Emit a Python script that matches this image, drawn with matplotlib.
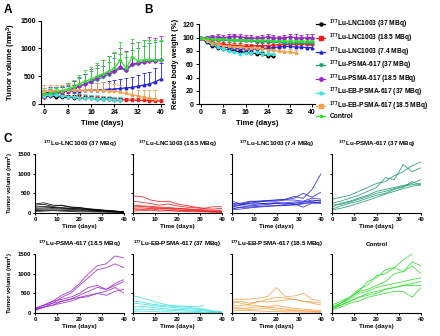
import numpy as np
import matplotlib.pyplot as plt
from matplotlib.lines import Line2D

plt.rcParams['font.family'] = ['Liberation Sans', 'DejaVu Sans']
plt.rcParams['font.weight'] = 'bold'
plt.rcParams['axes.titleweight'] = 'bold'
plt.rcParams['axes.labelweight'] = 'bold'
plt.rcParams['mathtext.fontset'] = 'custom'
plt.rcParams['mathtext.rm'] = 'Liberation Sans:bold'
plt.rcParams['mathtext.bf'] = 'Liberation Sans:bold'
plt.rcParams['mathtext.it'] = 'Liberation Sans:bold'
plt.rcParams['mathtext.default'] = 'bf'
plt.rcParams['axes.linewidth'] = 0.8

# group names
labels = ["$^{177}$Lu-LNC1003 (37 MBq)", "$^{177}$Lu-LNC1003 (18.5 MBq)",
          "$^{177}$Lu-LNC1003 (7.4 MBq)", "$^{177}$Lu-PSMA-617 (37 MBq)",
          "$^{177}$Lu-PSMA-617 (18.5 MBq)", "$^{177}$Lu-EB-PSMA-617 (37 MBq)",
          "$^{177}$Lu-EB-PSMA-617 (18.5 MBq)", "Control"]
colors = ['#000000', '#ee1c1c', '#2424d8', '#1f9a72', '#9b27c9', '#3fe3e3', '#f2a24c', '#2ee02e']
markers = ['o', 's', '^', 'v', 'D', 'h', 's', '*']

days = np.arange(0, 41, 2)

# A: tumor volume, mean and SD (mm3)
vol_lnc37 = [130, 140, 135, 125, 120, 115, 110, 105, 100, 95, 90, 85, 80, 75]
vol_lnc37_sd = [60, 65, 60, 55, 50, 50, 45, 45, 40, 40, 35, 35, 30, 30]
vol_lnc18 = [160, 170, 155, 145, 135, 125, 120, 110, 105, 100, 95, 90, 85, 80, 75, 70, 65, 65, 60, 60, 55]
vol_lnc18_sd = [90, 90, 80, 75, 70, 65, 60, 55, 50, 50, 45, 45, 40, 40, 40, 35, 35, 35, 30, 30, 30]
vol_lnc7 = [200, 210, 215, 220, 230, 235, 240, 245, 250, 255, 260, 265, 270, 280, 290, 300, 320, 340, 360, 400, 450]
vol_lnc7_sd = [80, 90, 90, 95, 100, 100, 105, 110, 120, 130, 140, 150, 160, 170, 180, 190, 200, 210, 220, 250, 280]
vol_psma37 = [170, 185, 200, 220, 250, 280, 320, 360, 400, 440, 480, 530, 580, 640, 600, 700, 720, 750, 770, 780, 800]
vol_psma37_sd = [80, 90, 100, 110, 120, 140, 160, 180, 190, 200, 210, 230, 240, 260, 250, 270, 290, 300, 320, 330, 340]
vol_psma18 = [130, 160, 190, 210, 240, 280, 320, 360, 420, 470, 520, 560, 600, 660, 620, 720, 740, 760, 780, 770, 790]
vol_psma18_sd = [50, 60, 70, 90, 110, 130, 150, 180, 210, 240, 270, 300, 320, 350, 340, 370, 380, 400, 420, 420, 430]
vol_eb37 = [150, 165, 155, 145, 135, 125, 115, 105, 100, 95, 90, 85, 80, 75]
vol_eb37_sd = [130, 120, 110, 100, 90, 85, 80, 75, 70, 65, 60, 55, 50, 50]
vol_eb18 = [230, 240, 235, 240, 245, 245, 250, 245, 255, 245, 250, 240, 235, 215, 195, 170, 150, 120, 100, 90]
vol_eb18_sd = [110, 110, 105, 110, 115, 115, 120, 125, 140, 135, 140, 130, 125, 120, 115, 110, 110, 130, 150, 160]
vol_ctrl = [180, 190, 210, 240, 270, 310, 360, 410, 450, 500, 540, 590, 640, 790, 640, 840, 780, 800, 790, 800, 790]
vol_ctrl_sd = [60, 70, 80, 90, 110, 130, 160, 200, 220, 240, 260, 280, 300, 320, 300, 330, 340, 350, 360, 350, 360]

# B: relative body weight (%), mean and SD
bw_lnc37 = [100, 93, 88, 85, 83, 81, 80, 79, 78, 77, 76, 75, 73, 72]
bw_lnc37_sd = [1, 3, 3, 3, 3, 3, 3, 3, 3, 3, 3, 3, 3, 3]
bw_lnc18 = [100, 96, 93, 91, 90, 89, 88, 88, 87, 87, 88, 88, 88, 89, 89, 90, 90, 90, 91, 90, 90]
bw_lnc18_sd = [1, 3, 4, 4, 4, 4, 4, 4, 4, 4, 4, 4, 4, 4, 4, 4, 4, 4, 4, 4, 4]
bw_lnc7 = [100, 95, 91, 88, 86, 85, 84, 83, 83, 83, 83, 84, 84, 85, 86, 87, 87, 86, 86, 85, 85]
bw_lnc7_sd = [1, 3, 4, 4, 4, 4, 4, 4, 4, 4, 4, 4, 4, 4, 4, 4, 4, 4, 4, 4, 4]
bw_psma37 = [100, 98, 97, 96, 96, 96, 95, 95, 95, 95, 94, 94, 94, 93, 93, 92, 92, 92, 92, 92, 92]
bw_psma37_sd = [1, 3, 3, 3, 3, 3, 3, 3, 3, 3, 3, 3, 3, 3, 3, 3, 3, 3, 3, 3, 3]
bw_psma18 = [100, 100, 101, 101, 100, 101, 102, 101, 100, 100, 99, 100, 101, 100, 99, 100, 101, 100, 99, 100, 100]
bw_psma18_sd = [1, 3, 3, 4, 4, 4, 4, 4, 4, 4, 4, 4, 4, 4, 4, 4, 5, 5, 5, 5, 5]
bw_eb37 = [100, 95, 90, 86, 83, 80, 78, 76, 77, 77, 78, 76, 75, 76]
bw_eb37_sd = [1, 3, 4, 4, 4, 4, 4, 4, 4, 4, 4, 4, 4, 4]
bw_eb18 = [100, 96, 92, 90, 88, 87, 86, 86, 85, 85, 84, 83, 82, 81, 80, 79, 78, 77]
bw_eb18_sd = [1, 3, 4, 4, 4, 4, 4, 4, 4, 4, 4, 4, 4, 4, 5, 5, 5, 5]
bw_ctrl = [100, 99, 98, 98, 98, 97, 97, 97, 97, 96, 96, 96, 96, 95, 95, 95, 95, 95, 95, 95, 95]
bw_ctrl_sd = [1, 2, 3, 3, 3, 3, 3, 3, 3, 3, 3, 3, 3, 3, 3, 3, 3, 3, 3, 3, 3]

# C: individual tumor volumes (mm3), every 4 days
days_c = np.arange(0, 41, 4)
nan = np.nan
mice_lnc37 = [[230, 260, 200, 190, 150, 140, 110, 90, 70, 50, 30],
              [200, 220, 170, 200, 150, 130, 100, 80, 60, 40, 20],
              [150, 170, 150, 140, 120, 110, 90, 70, 50, 40, 25],
              [120, 130, 140, 120, 110, 100, 80, 70, 60, 50, 30],
              [90, 100, 110, 100, 90, 80, 70, 60, 50, 40, 30],
              [60, 70, 80, 70, 60, 60, 50, 40, 35, 30, 20],
              [40, 50, 60, 50, 40, 30, 30, 25, 20, 15, 10]]
mice_lnc18 = [[430, 420, 330, 290, 300, 230, 190, 150, 120, 160, 160],
              [300, 270, 240, 200, 230, 180, 150, 130, 110, 100, 120],
              [200, 180, 170, 150, 140, 120, 110, 90, 80, 70, 60],
              [150, 170, 140, 130, 110, 120, 90, 80, 60, 50, 40],
              [120, 130, 110, 120, 100, 80, 70, 60, 50, 40, 30],
              [80, 90, 100, 80, 70, 70, 60, 50, 40, 30, 20],
              [50, 60, 70, 50, 60, 40, 40, 30, 30, 20, 20]]
mice_lnc7 = [[250, 220, 280, 300, 320, 330, 350, 420, 370, 600, 1000],
             [200, 250, 300, 300, 310, 330, 340, 380, 500, 400, 530],
             [150, 200, 250, 280, 300, 300, 330, 330, 300, 380, 350],
             [100, 150, 180, 200, 220, 250, 260, 280, 280, 330, 300],
             [300, 230, 250, 250, 230, 240, 220, 250, 280, 300, 320],
             [180, 210, 200, 230, 250, 260, 250, 230, 150, 250, 250],
             [120, 140, 150, 170, 180, 190, 200, 200, 230, 280, 250],
             [80, 100, 130, 150, 170, 180, 190, 220, 250, 260, 270]]
mice_psma37 = [[350, 400, 450, 550, 650, 750, 800, 950, 1050, 1200, 1300],
               [250, 300, 380, 450, 550, 650, 900, 850, 1230, 1050, 1150],
               [150, 250, 300, 380, 450, 550, 600, 650, 700, 750, 850],
               [100, 180, 250, 300, 380, 450, 500, 600, 650, 800, 700],
               [200, 220, 280, 350, 420, 500, 550, 620, 680, 720, 750],
               [80, 120, 180, 250, 320, 400, 480, 550, 620, 680, 720]]
mice_psma18 = [[100, 200, 300, 450, 550, 750, 1000, 1200, 1250, 1450, 1400],
               [80, 150, 250, 400, 500, 700, 900, 1100, 1150, 1250, 1150],
               [120, 200, 300, 350, 400, 500, 650, 700, 600, 750, 850],
               [90, 150, 200, 300, 350, 450, 550, 650, 600, 700, 800],
               [100, 200, 250, 300, 350, 400, 450, 500, 550, 650, 500],
               [60, 150, 200, 250, 300, 380, 420, 500, 450, 550, 600]]
mice_eb37 = [[440, 380, 320, 250, 200, 180, 170, 160, 190, nan, nan],
             [300, 280, 230, 200, 180, 160, 150, 120, 100, 50, 40],
             [250, 230, 200, 170, 150, 130, 110, 100, 80, 40, 20],
             [150, 170, 150, 120, 100, 90, 80, 70, 60, 30, 20],
             [80, 100, 90, 80, 70, 60, 50, 40, 30, 20, 10],
             [40, 50, 40, 30, 30, 20, 20, 15, 10, 10, 5]]
mice_eb18 = [[350, 350, 350, 380, 420, 650, 420, 430, 500, 350, 300],
             [250, 300, 250, 280, 350, 400, 380, 350, 300, 280, 250],
             [200, 180, 220, 300, 280, 300, 330, 350, 300, 250, 200],
             [150, 120, 130, 160, 150, 200, 150, 120, 100, 80, 60],
             [100, 110, 90, 100, 110, 80, 70, 60, 50, 40, 30],
             [50, 70, 60, 50, 40, 40, 30, 30, 25, 20, 15],
             [300, 250, 200, 180, 150, 130, 100, 80, 60, 50, 40]]
mice_ctrl = [[150, 250, 400, 550, 800, 900, 1100, 1150, 1350, 1500, nan],
             [200, 300, 400, 600, 700, 950, 1000, 1150, 1050, 1300, 1200],
             [100, 250, 400, 550, 600, 700, 800, 1000, 1050, 1200, 1000],
             [150, 250, 350, 500, 550, 650, 700, 750, 800, 850, 900],
             [100, 200, 300, 400, 450, 500, 600, 650, 700, 750, 800],
             [80, 150, 250, 300, 400, 450, 500, 550, 550, 400, 650],
             [120, 200, 300, 400, 500, 550, 600, 650, 700, 700, 700]]

vol_means = [vol_lnc37, vol_lnc18, vol_lnc7, vol_psma37, vol_psma18, vol_eb37, vol_eb18, vol_ctrl]
vol_sds = [vol_lnc37_sd, vol_lnc18_sd, vol_lnc7_sd, vol_psma37_sd, vol_psma18_sd, vol_eb37_sd, vol_eb18_sd, vol_ctrl_sd]
bw_means = [bw_lnc37, bw_lnc18, bw_lnc7, bw_psma37, bw_psma18, bw_eb37, bw_eb18, bw_ctrl]
bw_sds = [bw_lnc37_sd, bw_lnc18_sd, bw_lnc7_sd, bw_psma37_sd, bw_psma18_sd, bw_eb37_sd, bw_eb18_sd, bw_ctrl_sd]
mice = [mice_lnc37, mice_lnc18, mice_lnc7, mice_psma37, mice_psma18, mice_eb37, mice_eb18, mice_ctrl]

fig = plt.figure(figsize=(4.4, 3.36), dpi=100)
W, H = 440, 336


def px_axes(x0, y0, x1, y1):
    # pixel box (top-left origin) -> figure axes
    return fig.add_axes([x0 / W, 1 - y1 / H, (x1 - x0) / W, (y1 - y0) / H])


def style(ax, fs=5):
    ax.spines['top'].set_visible(False)
    ax.spines['right'].set_visible(False)
    ax.tick_params(direction='out', length=2, width=0.7, labelsize=fs, pad=1.5)


# panel A
axA = px_axes(40.7, 20.7, 164, 104)
for i in range(8):
    m = np.array(vol_means[i]); s = np.array(vol_sds[i])
    d = days[:len(m)]
    axA.errorbar(d, m, yerr=[np.zeros_like(s), s], color=colors[i], marker=markers[i],
                 ms=1.8, lw=0.9, elinewidth=0.6, capsize=1.3, capthick=0.6)
axA.set_xlim(-1.3, 41)
axA.set_ylim(0, 1500)
axA.set_xticks([0, 8, 16, 24, 32, 40])
axA.set_yticks([0, 500, 1000, 1500])
axA.set_xlabel('Time (days)', fontsize=5.5, labelpad=3)
axA.set_ylabel('Tumor volume (mm$^3$)', fontsize=5.5, labelpad=2)
style(axA)

# panel B
axB = px_axes(198.8, 24.3, 315, 104.3)
for i in range(8):
    m = np.array(bw_means[i]); s = np.array(bw_sds[i])
    d = days[:len(m)]
    axB.errorbar(d, m, yerr=[np.zeros_like(s), s], color=colors[i], marker=markers[i],
                 ms=1.8, lw=0.9, elinewidth=0.6, capsize=1.3, capthick=0.6)
axB.set_xlim(-0.8, 41)
axB.set_ylim(0, 120)
axB.set_xticks([0, 8, 16, 24, 32, 40])
axB.set_yticks(range(0, 121, 20))
axB.set_xlabel('Time (days)', fontsize=5.5, labelpad=3)
axB.set_ylabel('Relative body weight (%)', fontsize=5.5, labelpad=2)
style(axB)

handles = [Line2D([], [], color=colors[i], marker=markers[i], ms=2.2, lw=0.9) for i in range(8)]
fig.legend(handles, labels, loc='upper left', bbox_to_anchor=(316 / W, 1 - 18 / H),
           frameon=False, fontsize=4.8, handlelength=1.4, handletextpad=0.6,
           labelspacing=0.05, borderaxespad=0, borderpad=0)

# panel C
col_x = [35, 133, 232, 332]
row_y = [(154, 213), (254, 313)]
for i in range(8):
    r, c = divmod(i, 4)
    ax = px_axes(col_x[c], row_y[r][0], col_x[c] + 89, row_y[r][1])
    for curve in mice[i]:
        ax.plot(days_c, curve, color=colors[i], lw=0.6, alpha=0.9)
    ax.set_xlim(0, 40)
    ax.set_ylim(0, 1500)
    ax.set_xticks([0, 10, 20, 30, 40])
    ax.set_yticks([0, 500, 1000, 1500])
    style(ax, fs=4.3)
    ax.tick_params(length=1.5)
    if c > 0:
        ax.set_yticklabels([])
    else:
        ax.set_ylabel('Tumor volume (mm$^3$)', fontsize=4.3, labelpad=2)
    ax.set_xlabel('Time (days)', fontsize=4.5, labelpad=1.5)
    ax.set_title(labels[i], fontsize=4.5, pad=6)

fig.text(4 / W, 1 - 4 / H, 'A', fontsize=8.5, fontweight='bold', va='top')
fig.text(144 / W, 1 - 4 / H, 'B', fontsize=8.5, fontweight='bold', va='top')
fig.text(4 / W, 1 - 133 / H, 'C', fontsize=8.5, fontweight='bold', va='top')

fig.savefig('out.png', dpi=100)
